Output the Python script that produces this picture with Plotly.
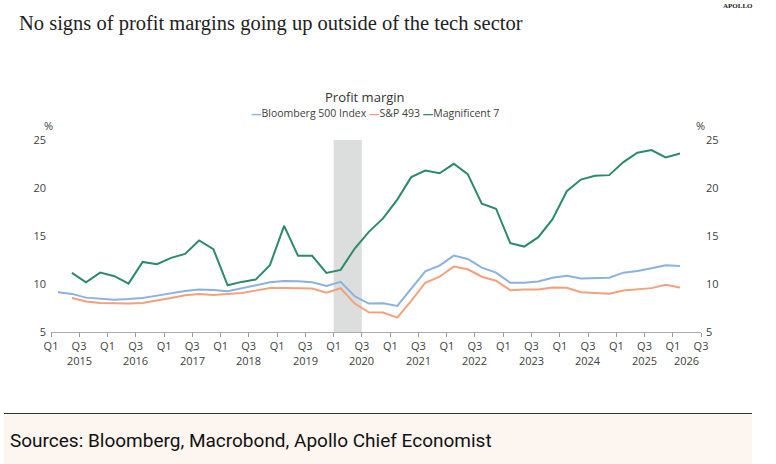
import plotly.graph_objects as go
import pandas as pd

# ---------------- data ----------------
quarters = pd.period_range("2015Q1", "2026Q1", freq="Q")
dates = [q.start_time + pd.Timedelta(days=45) for q in quarters]

series_names = ["Bloomberg 500 Index", "S&P 493", "Magnificent 7"]
series_colors = ["#8ab2df", "#f3a17c", "#2b8a6a"]
series_axes = ["y", "y", "y2"]

bloomberg500 = [9.14, 8.97, 8.58, 8.48, 8.37, 8.44, 8.55, 8.79, 9.07, 9.28, 9.42, 9.38,
                9.24, 9.56, 9.83, 10.18, 10.32, 10.29, 10.18, 9.80, 10.22, 8.72, 7.96, 7.99,
                7.72, 9.57, 11.32, 11.91, 12.96, 12.61, 11.70, 11.18, 10.13, 10.13, 10.27, 10.65,
                10.86, 10.58, 10.62, 10.65, 11.18, 11.35, 11.63, 11.95, 11.88]
sp493 = [None, 8.55, 8.17, 8.03, 7.96, 7.96, 8.03, 8.27, 8.55, 8.83, 8.97, 8.86,
         8.93, 9.07, 9.31, 9.59, 9.59, 9.59, 9.52, 9.10, 9.56, 7.96, 7.05, 7.02,
         6.50, 8.25, 10.13, 10.76, 11.81, 11.53, 10.76, 10.34, 9.36, 9.43, 9.43, 9.64,
         9.60, 9.15, 9.05, 8.98, 9.33, 9.43, 9.57, 9.92, 9.64]
magnificent7 = [None, 11.16, 10.18, 11.19, 10.81, 10.04, 12.30, 12.06, 12.72, 13.14, 14.53, 13.63,
                9.87, 10.22, 10.46, 11.96, 16.06, 12.93, 12.93, 11.16, 11.47, 13.70, 15.43, 16.83,
                18.79, 21.13, 21.82, 21.54, 22.52, 21.44, 18.37, 17.84, 14.25, 13.90, 14.88, 16.76,
                19.66, 20.88, 21.27, 21.34, 22.70, 23.67, 23.95, 23.18, 23.60]

y_ticks = [5, 10, 15, 20, 25]
x_tick_dates = []
x_tick_text = []
for yr in range(2015, 2027):
    x_tick_dates += [f"{yr}-01-01", f"{yr}-07-01"]
    x_tick_text += ["Q1", "Q3"]
year_labels = [str(y) for y in range(2015, 2027)]
year_label_pos = [f"{y}-07-01" for y in range(2015, 2026)] + ["2026-04-01"]
shade_start, shade_end = "2020-01-01", "2020-07-01"

title = "No signs of profit margins going up outside of the tech sector"
chart_title = "Profit margin"
source_text = "Sources: Bloomberg, Macrobond, Apollo Chief Economist"

# ---------------- layout helpers ----------------
W, H = 776, 464
ML, MR, MT, MB = 51, 75, 140, 132
PW, PH = W - ML - MR, H - MT - MB


def px(x):
    return (x - ML) / PW


def py(y):
    return (H - MB - y) / PH


fig = go.Figure()
for name, vals, col, ax in zip(series_names, [bloomberg500, sp493, magnificent7],
                               series_colors, series_axes):
    fig.add_trace(go.Scatter(x=dates, y=vals, name=name, mode="lines", yaxis=ax,
                             line=dict(color=col, width=2), showlegend=False,
                             connectgaps=False))

tick_font = dict(family="Open Sans, Noto Sans, sans-serif", size=11, color="#404040")

fig.update_layout(
    width=W, height=H,
    margin=dict(l=ML, r=MR, t=MT, b=MB),
    paper_bgcolor="white", plot_bgcolor="white",
    xaxis=dict(type="date", range=["2015-01-01", "2026-07-01"],
               tickmode="array", tickvals=x_tick_dates, ticktext=x_tick_text,
               ticks="outside", ticklen=4, tickcolor="#999", tickwidth=1,
               showline=True, linecolor="#aaa", linewidth=1,
               showgrid=False, zeroline=False, tickfont=tick_font, fixedrange=True),
    yaxis=dict(range=[5, 25], tickmode="array", tickvals=y_ticks,
               showgrid=False, zeroline=False, showline=False, ticks="",
               tickfont=tick_font, ticklabelstandoff=4),
    yaxis2=dict(range=[5, 25], tickmode="array", tickvals=y_ticks, overlaying="y",
                side="right", showgrid=False, zeroline=False, showline=False, ticks="",
                tickfont=tick_font, ticklabelstandoff=4),
)

shapes = [
    dict(type="rect", xref="x", yref="y", x0=shade_start, x1=shade_end, y0=5, y1=25,
         fillcolor="#dcdddd", line=dict(width=0), layer="below"),
    dict(type="rect", xref="paper", yref="paper", x0=px(4), x1=px(752), y0=py(464), y1=py(414),
         fillcolor="#fdf5f0", line=dict(width=0), layer="below"),
    dict(type="line", xref="paper", yref="paper", x0=px(4), x1=px(752), y0=py(413.5), y1=py(413.5),
         line=dict(color="#333", width=1)),
]
fig.update_layout(shapes=shapes)

ann = []
ann.append(dict(text="<b>APOLLO</b>", x=px(738), y=py(6), xref="paper", yref="paper",
                xanchor="center", yanchor="middle", showarrow=False,
                font=dict(family="Liberation Serif, serif", size=7, color="#222")))
ann.append(dict(text=title, x=px(17), y=py(23), xref="paper", yref="paper",
                xanchor="left", yanchor="middle", showarrow=False,
                font=dict(family="Liberation Serif, serif", size=20.5, color="#222")))
ann.append(dict(text=chart_title, x=px(365), y=py(97), xref="paper", yref="paper",
                xanchor="center", yanchor="middle", showarrow=False,
                font=dict(family="Open Sans, sans-serif", size=13, color="#333")))
legend_txt = " ".join(f"<span style='color:{c}'><b>—</b></span>{n}"
                      for n, c in zip(series_names, series_colors))
ann.append(dict(text=legend_txt, x=px(375), y=py(113), xref="paper", yref="paper",
                xanchor="center", yanchor="middle", showarrow=False,
                font=dict(family="Open Sans, sans-serif", size=10.5, color="#404040")))
for xpos in [48, 700]:
    ann.append(dict(text="%", x=px(xpos), y=py(126), xref="paper", yref="paper",
                    xanchor="center", yanchor="middle", showarrow=False, font=tick_font))
for lab, pos in zip(year_labels, year_label_pos):
    ann.append(dict(text=lab, x=pos, y=py(360), xref="x", yref="paper",
                    xanchor="center", yanchor="middle", showarrow=False, font=tick_font))
ann.append(dict(text=source_text, x=px(8), y=py(440), xref="paper", yref="paper",
                xanchor="left", yanchor="middle", showarrow=False,
                font=dict(family="Roboto, sans-serif", size=19, color="#111")))
fig.update_layout(annotations=ann)

fig.write_html("out.html")
